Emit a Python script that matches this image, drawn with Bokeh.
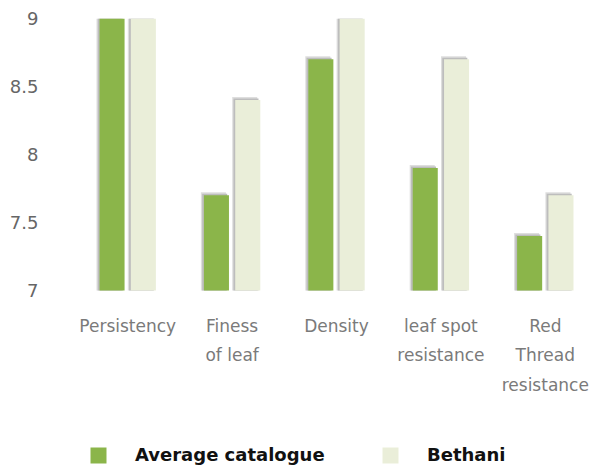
from bokeh.plotting import figure
from bokeh.models import ColumnDataSource, Range1d, FactorRange, Legend, LegendItem, FixedTicker
from bokeh.core.properties import value
from bokeh.transform import dodge
from bokeh.embed import file_html
from bokeh.resources import INLINE

categories = ["Persistency", "Finess\nof leaf", "Density", "leaf spot\nresistance", "Red\nThread\nresistance"]
average_catalogue = [9.0, 7.7, 8.7, 7.9, 7.4]
bethani = [9.0, 8.4, 9.0, 8.7, 7.7]
y_ticks = [7, 7.5, 8, 8.5, 9]
y_min, y_max = 7, 9

GREEN = "#8bb54a"
LIGHT = "#eaeed9"

src = ColumnDataSource(dict(
    cat=categories,
    avg=average_catalogue,
    beth=bethani,
    avg_sh1=[v + 0.022 for v in average_catalogue],
    beth_sh1=[v + 0.022 for v in bethani],
    avg_sh2=[v + 0.011 for v in average_catalogue],
    beth_sh2=[v + 0.011 for v in bethani],
))

# frame spans down to the bottom of the figure so the legend can sit inside it;
# the value axis keeps 136 px per unit, with y_min at 272 px below the top
PX_PER_UNIT = 136.0
FRAME_H = 453
p = figure(width=597, height=471, x_range=FactorRange(*categories),
           y_range=Range1d(y_max - FRAME_H / PX_PER_UNIT, y_max),
           output_backend="svg", toolbar_location=None,
           min_border_left=75, min_border_top=18, min_border_right=0, min_border_bottom=0)
p.x_range.range_padding = 0
p.outline_line_color = None
p.grid.visible = False
p.xaxis.visible = False

W = 0.24
OFF = 0.15
DX1 = 0.029
DX2 = 0.017

for off, col_sh1, col_sh2 in [(-OFF, "avg_sh1", "avg_sh2"), (OFF, "beth_sh1", "beth_sh2")]:
    p.vbar(x=dodge("cat", off - DX1, range=p.x_range), top=col_sh1, bottom=y_min, width=W,
           source=src, fill_color="#dedede", line_color=None)
    p.vbar(x=dodge("cat", off - DX2, range=p.x_range), top=col_sh2, bottom=y_min, width=W,
           source=src, fill_color="#bdbdbd", line_color=None)

r_avg = p.vbar(x=dodge("cat", -OFF, range=p.x_range), top="avg", bottom=y_min, width=W,
               source=src, fill_color=GREEN, line_color=None)
r_beth = p.vbar(x=dodge("cat", OFF, range=p.x_range), top="beth", bottom=y_min, width=W,
                source=src, fill_color=LIGHT, line_color=None)

# category labels under the bars
p.text(x="cat", y=y_min, text="cat", source=src, y_offset=25,
       text_align="center", text_baseline="top", text_font=value("DejaVu Sans"),
       text_font_size="17px", text_color="#7a7a7a", text_line_height=1.49)

p.yaxis.ticker = FixedTicker(ticks=y_ticks)
p.yaxis.axis_line_color = None
p.yaxis.major_tick_line_color = None
p.yaxis.minor_tick_line_color = None
p.yaxis.major_tick_out = 0
p.yaxis.major_tick_in = 0
p.yaxis.major_label_standoff = 37
p.yaxis.major_label_text_font = "DejaVu Sans"
p.yaxis.major_label_text_font_size = "18px"
p.yaxis.major_label_text_color = "#666666"

legend = Legend(items=[LegendItem(label="Average catalogue", renderers=[r_avg]),
                       LegendItem(label="Bethani", renderers=[r_beth])],
                orientation="horizontal", location=(13, 6),
                glyph_width=20, glyph_height=20, label_standoff=27, label_width=220, spacing=25,
                padding=0, margin=0, border_line_color=None, background_fill_alpha=0,
                label_text_font="DejaVu Sans", label_text_font_style="bold",
                label_text_font_size="18px", label_text_color="#111111")
p.add_layout(legend, "center")

open("out.html", "w").write(file_html(p, INLINE))
